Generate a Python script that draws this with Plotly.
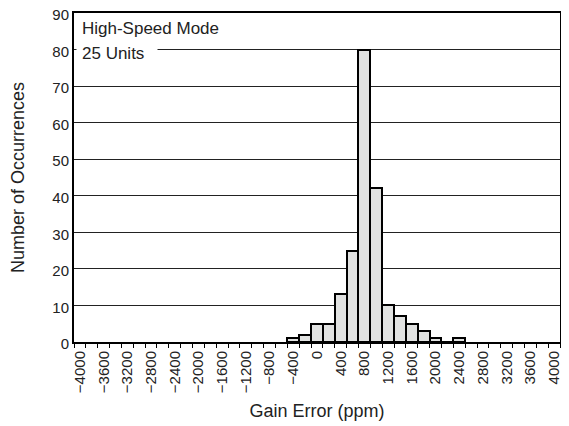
import plotly.graph_objects as go

# histogram bins (ppm, bin centres) and counts
gain_error_ppm = [-400, -200, 0, 200, 400, 600, 800, 1000, 1200, 1400, 1600, 1800, 2000, 2200, 2400]
occurrences = [1, 2, 5, 5, 13, 25, 80, 42, 10, 7, 5, 3, 1, 0, 1]

x_labels = list(range(-4000, 4001, 400))
x_ticktext = [str(v).replace("-", "\u2212") for v in x_labels]
bin_width = 200
bin_edges = [v - bin_width / 2 for v in range(-4000, 4201, bin_width)]
x_range = [-4000 - bin_width / 2, 4000 + bin_width / 2]

FONT = "Liberation Sans, Arial, Helvetica, sans-serif"

fig = go.Figure()
fig.add_trace(go.Bar(
    x=gain_error_ppm, y=occurrences, width=bin_width,
    marker=dict(color="#e1e2e1", line=dict(color="black", width=2)),
    showlegend=False,
))

# page body has an 8px margin, so the figure is sized/offset to compensate
fig.update_layout(
    width=561, height=418,
    margin=dict(l=66, r=9, t=5, b=84, autoexpand=False),
    paper_bgcolor="white", plot_bgcolor="white",
    font=dict(family=FONT, size=15, color="#222"),
    bargap=0,
    xaxis=dict(
        range=x_range, tickmode="array", tickvals=x_labels, ticktext=x_ticktext,
        tickangle=-90, ticks="outside", ticklen=1, tickcolor="rgba(0,0,0,0)",
        minor=dict(tickmode="array", tickvals=bin_edges, ticks="outside",
                   ticklen=4, tickwidth=1, tickcolor="black"),
        showline=True, linecolor="black", linewidth=2, mirror=True,
        showgrid=False, zeroline=False, automargin=False,
        ticklabeloverflow="allow",
        title=dict(text="Gain Error (ppm)", font=dict(size=18), standoff=12),
    ),
    xaxis2=dict(
        range=x_range, overlaying="x", anchor="y", side="bottom",
        tickmode="array", tickvals=bin_edges, ticks="inside", ticklen=4,
        tickwidth=1, tickcolor="black", showticklabels=False,
        showline=False, showgrid=False, zeroline=False, automargin=False,
    ),
    yaxis=dict(
        range=[0, 90], dtick=10, ticks="", showgrid=True,
        gridcolor="#222", gridwidth=1,
        showline=True, linecolor="black", linewidth=2, mirror=True,
        zeroline=False, automargin=False, ticklabeloverflow="allow",
        ticklabelshift=2,
        title=dict(text="Number of Occurrences", font=dict(size=18), standoff=32),
    ),
    annotations=[
        dict(text="High-Speed Mode", xref="paper", yref="paper", x=0, y=1,
             xanchor="left", yanchor="top", xshift=2, yshift=0, showarrow=False,
             bgcolor="white", borderpad=5, font=dict(size=17)),
        dict(text="25 Units", xref="paper", yref="paper", x=0, y=1,
             xanchor="left", yanchor="top", xshift=2, yshift=-25, showarrow=False,
             bgcolor="white", borderpad=5, width=70, align="left",
             font=dict(size=17)),
    ],
)

fig.write_html("out.html")
